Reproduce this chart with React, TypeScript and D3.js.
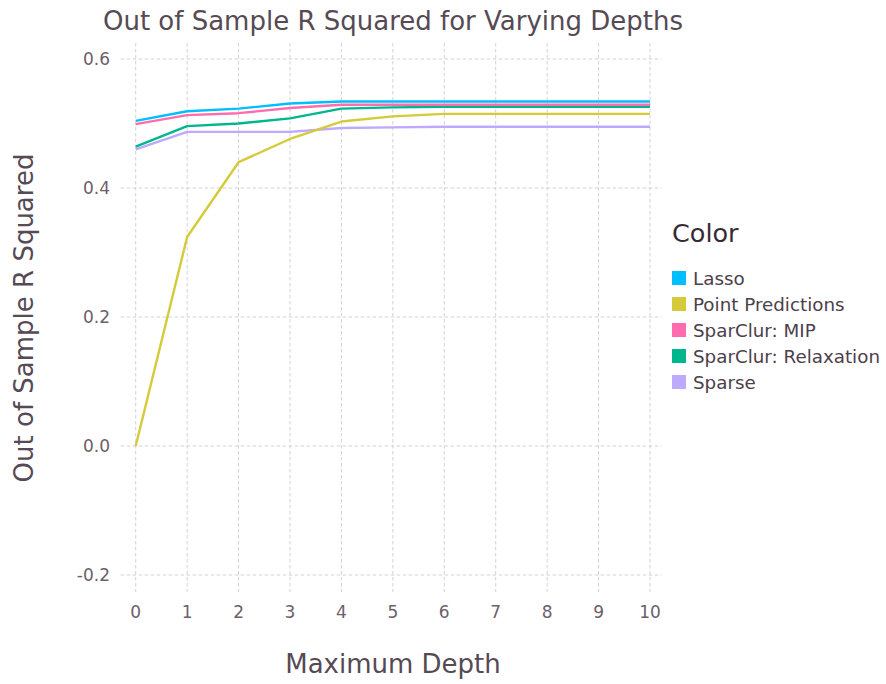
import React from "react";
import * as d3 from "d3";

const depths = [0, 1, 2, 3, 4, 5, 6, 7, 8, 9, 10];
const seriesNames = ["Lasso", "Point Predictions", "SparClur: MIP", "SparClur: Relaxation", "Sparse"];
const seriesColors = ["#00BFFF", "#D4CA3A", "#FF6DAE", "#00B78D", "#BEA9FF"];
const lassoValues = [0.504, 0.519, 0.523, 0.531, 0.534, 0.534, 0.534, 0.534, 0.534, 0.534, 0.534];
const pointValues = [0.0, 0.324, 0.44, 0.476, 0.503, 0.511, 0.515, 0.515, 0.515, 0.515, 0.515];
const mipValues = [0.499, 0.513, 0.516, 0.524, 0.529, 0.529, 0.529, 0.529, 0.529, 0.529, 0.529];
const relaxValues = [0.464, 0.496, 0.5, 0.508, 0.523, 0.525, 0.526, 0.526, 0.526, 0.526, 0.526];
const sparseValues = [0.46, 0.487, 0.487, 0.487, 0.493, 0.494, 0.495, 0.495, 0.495, 0.495, 0.495];
const yTicks = [-0.2, 0.0, 0.2, 0.4, 0.6];
const xTicks = [0, 1, 2, 3, 4, 5, 6, 7, 8, 9, 10];

const allSeries = [lassoValues, pointValues, mipValues, relaxValues, sparseValues];

const FONT = "'DejaVu Sans', Verdana, sans-serif";

export default function App() {
  const W = 886, H = 684;
  const x = d3.scaleLinear().domain([0, 10]).range([135.7, 650]);
  const y = d3.scaleLinear().domain([-0.2, 0.6]).range([575, 59]);
  const panel = { x0: 120.7, x1: 661.7, y0: 43, y1: 592 };
  const line = d3.line<number>().x((_, i) => x(depths[i])).y((v) => y(v));
  const drawOrder = [4, 3, 2, 1, 0];
  const fmt = (t: number) => d3.format(".1f")(t).replace("\u2212", "-");

  return (
    <svg width={W} height={H} style={{ position: "absolute", left: 0, top: 0, background: "#fff" }}>
      <g>
        {xTicks.map((t) => (
          <line key={"vx" + t} x1={x(t)} x2={x(t)} y1={panel.y0} y2={panel.y1}
            stroke="#D0D0E0" strokeWidth={1} strokeDasharray="3.5,2.5" />
        ))}
        {yTicks.map((t) => (
          <line key={"hy" + t} x1={panel.x0} x2={panel.x1} y1={y(t)} y2={y(t)}
            stroke="#D0D0E0" strokeWidth={1} strokeDasharray="3.5,2.5" />
        ))}
      </g>
      <g>
        {drawOrder.map((si) => (
          <path key={"l" + si} d={line(allSeries[si]) || ""} fill="none"
            stroke={seriesColors[si]} strokeWidth={2.4} strokeLinejoin="round" />
        ))}
      </g>
      <g fontFamily={FONT} fill="#6C606B" fontSize={17}>
        {yTicks.map((t) => (
          <text key={"yt" + t} x={110} y={y(t)} dy="0.36em" textAnchor="end">
            {fmt(t)}
          </text>
        ))}
        {xTicks.map((t) => (
          <text key={"xt" + t} x={x(t)} y={618} textAnchor="middle">{t}</text>
        ))}
      </g>
      <text x={393} y={30} textAnchor="middle" fontFamily={FONT} fontSize={26} fill="#564A55">
        Out of Sample R Squared for Varying Depths
      </text>
      <text x={393} y={673} textAnchor="middle" fontFamily={FONT} fontSize={26} fill="#564A55">
        Maximum Depth
      </text>
      <text transform={`translate(33,318) rotate(-90)`} textAnchor="middle" fontFamily={FONT} fontSize={26} fill="#564A55">
        Out of Sample R Squared
      </text>
      <g fontFamily={FONT}>
        <text x={672} y={242} fontSize={25.5} fill="#362A35">Color</text>
        {seriesNames.map((n, i) => (
          <g key={n} transform={`translate(672,${278 + i * 26})`}>
            <rect x={0} y={-7} width={14} height={14} fill={seriesColors[i]} />
            <text x={21} y={0} dy="0.36em" fontSize={18.3} fill="#4C404B">{n}</text>
          </g>
        ))}
      </g>
    </svg>
  );
}
